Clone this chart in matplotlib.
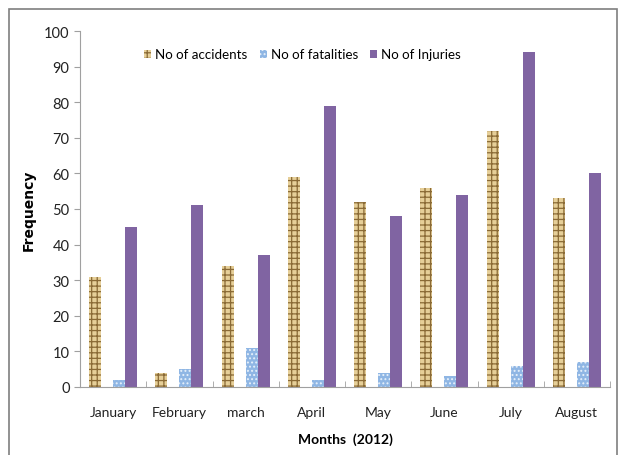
import numpy as np
import matplotlib
matplotlib.use("Agg")
import matplotlib.pyplot as plt
from matplotlib.patches import Rectangle

# Monthly data
months = ["January", "February", "march", "April", "May", "June", "July", "August"]
accidents = [31, 4, 34, 59, 52, 56, 72, 53]
fatalities = [2, 5, 11, 2, 4, 3, 6, 7]
injuries = [45, 51, 37, 79, 48, 54, 94, 60]

plt.rcParams["font.family"] = ["Lato", "DejaVu Sans"]
plt.rcParams["hatch.linewidth"] = 0.9

fig = plt.figure(figsize=(6.18, 4.56), dpi=100)
ax = fig.add_axes([80 / 618, 1 - 388 / 456, 530 / 618, 356 / 456])

# outer frame around the whole picture
fig.patches.append(Rectangle((8.5 / 618, -0.05), (617 - 8.5) / 618, 1 - 10 / 456 + 0.05,
                             transform=fig.transFigure, fill=False,
                             edgecolor="#7f7f7f", linewidth=1.2))

x = np.arange(len(months))
w = 0.181

ax.bar(x - 1.5 * w, accidents, w, color="#e6cf98", edgecolor="#8a6a35",
       hatch="+++", linewidth=0, label="No of accidents")
ax.bar(x + 0.5 * w, fatalities, w, color="#8fb6e4", edgecolor="#e6f0fa",
       hatch="....", linewidth=0, label="No of fatalities")
ax.bar(x + 1.5 * w, injuries, w, color="#8064a2", linewidth=0,
       label="No of Injuries")

ax.set_xlim(-0.5, len(months) - 0.5)
ax.set_ylim(0, 100)
ax.set_yticks(range(0, 101, 10))
ax.set_xticks(x)
ax.set_xticklabels(months)
ax.set_xticks(np.arange(len(months) + 1) - 0.5, minor=True)
ax.tick_params(axis="x", which="major", length=0, pad=14, labelsize=10, colors="#222222")
ax.tick_params(axis="x", which="minor", length=4, color="#a0a0a0", direction="in")
ax.tick_params(axis="y", length=4, color="#a0a0a0", labelsize=10.5, labelcolor="#222222")

for side in ["top", "right"]:
    ax.spines[side].set_visible(False)
for side in ["left", "bottom"]:
    ax.spines[side].set_color("#a0a0a0")

ax.set_ylabel("Frequency", fontsize=10, fontweight="bold", labelpad=6,
              family=["DejaVu Sans"])
ax.set_xlabel("Months  (2012)", fontsize=10, fontweight="bold", labelpad=10)

ax.legend(loc="upper left", bbox_to_anchor=(0.098, 0.985), ncol=3, frameon=False,
          fontsize=9.6, handlelength=0.55, handleheight=0.55, handletextpad=0.3,
          columnspacing=0.9)

fig.savefig("out.png", dpi=100)
